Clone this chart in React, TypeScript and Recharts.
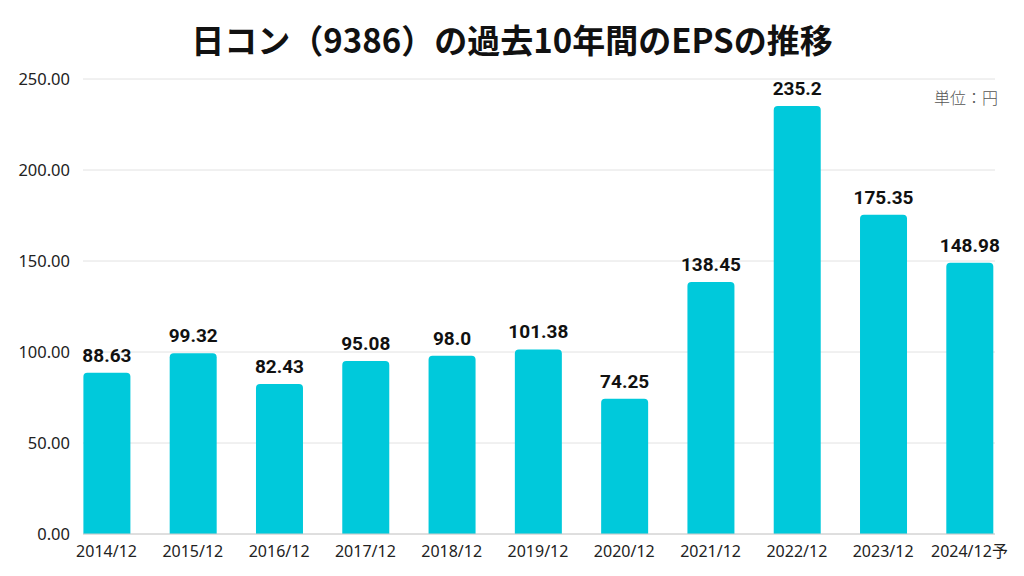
import React from "react";
import { BarChart, Bar, XAxis, YAxis, CartesianGrid, LabelList } from "recharts";

const categories = ["2014/12", "2015/12", "2016/12", "2017/12", "2018/12", "2019/12", "2020/12", "2021/12", "2022/12", "2023/12", "2024/12予"];
const epsValues = [88.63, 99.32, 82.43, 95.08, 98.0, 101.38, 74.25, 138.45, 235.2, 175.35, 148.98];
const epsLabels = ["88.63", "99.32", "82.43", "95.08", "98.0", "101.38", "74.25", "138.45", "235.2", "175.35", "148.98"];
const yTicks = [0, 50, 100, 150, 200, 250];

const data = categories.map((c, i) => ({ name: c, eps: epsValues[i], label: epsLabels[i] }));

const tickFont = "'Noto Sans', 'Noto Sans CJK JP', sans-serif";

export default function App() {
  return (
    <div style={{ position: "absolute", left: 0, top: 0, width: 1024, height: 576, background: "#fff" }}>
      <div
        style={{
          position: "absolute",
          left: 0,
          top: 16,
          width: 1024,
          textAlign: "center",
          fontFamily: "'Noto Sans CJK JP', sans-serif",
          fontWeight: 700,
          fontSize: 33,
          lineHeight: "46px",
          color: "#111",
        }}
      >
        日コン（9386）の過去10年間のEPSの推移
      </div>
      <div
        style={{
          position: "absolute",
          right: 26,
          top: 85,
          fontFamily: "'Noto Sans CJK JP', sans-serif",
          fontSize: 16,
          color: "#555",
          fontWeight: 300,
        }}
      >
        単位：円
      </div>
      <BarChart
        width={1024}
        height={576}
        data={data}
        margin={{ top: 79, right: 29, bottom: 0, left: 0 }}
        barSize={47}
      >
        <CartesianGrid horizontal={true} vertical={false} stroke="#e2e2e2" />
        <XAxis
          dataKey="name"
          height={42}
          tickLine={false}
          tickMargin={6}
          axisLine={{ stroke: "#cccccc" }}
          padding={{ left: -19.6, right: -17.6 }}
          interval={0}
          tick={{ fill: "#222", fontSize: 16, fontFamily: tickFont }}
        />
        <YAxis
          width={83}
          domain={[0, 250]}
          ticks={yTicks}
          tickFormatter={(v: number) => v.toFixed(2)}
          axisLine={false}
          tickLine={false}
          tickMargin={7}
          tick={{ fill: "#222", fontSize: 16.5, fontFamily: tickFont }}
        />
        <Bar dataKey="eps" fill="#00C9DB" radius={[4, 4, 0, 0]} isAnimationActive={false}>
          <LabelList
            dataKey="label"
            position="top"
            offset={11}
            fill="#111"
            fontSize={19}
            fontWeight={700}
            fontFamily="Roboto, sans-serif"
          />
        </Bar>
      </BarChart>
    </div>
  );
}
